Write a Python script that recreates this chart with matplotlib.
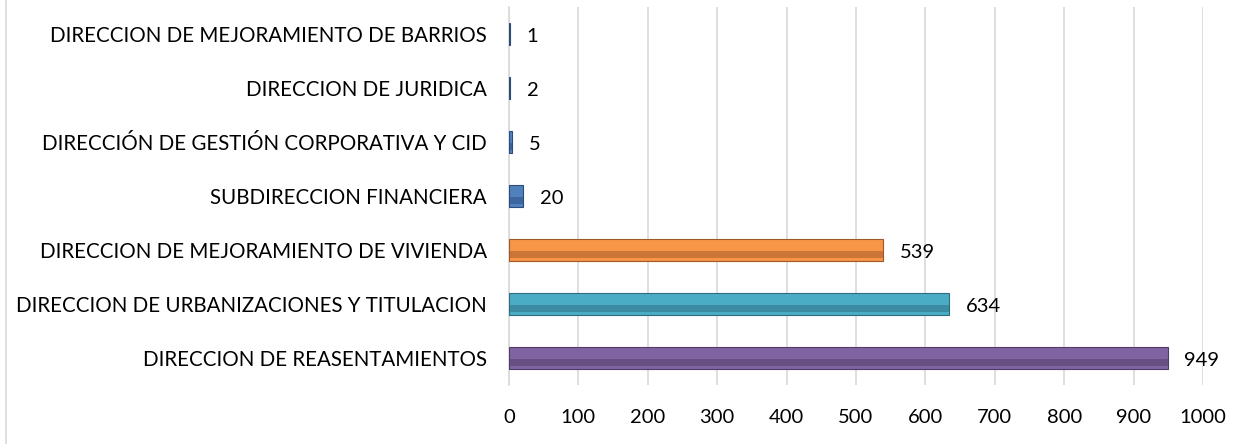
import matplotlib.pyplot as plt
from matplotlib.lines import Line2D

categories = [
    "DIRECCION DE REASENTAMIENTOS",
    "DIRECCION DE URBANIZACIONES Y TITULACION",
    "DIRECCION DE MEJORAMIENTO DE VIVIENDA",
    "SUBDIRECCION FINANCIERA",
    "DIRECCIÓN DE GESTIÓN CORPORATIVA Y CID",
    "DIRECCION DE JURIDICA",
    "DIRECCION DE MEJORAMIENTO DE BARRIOS",
]
values = [949, 634, 539, 20, 5, 2, 1]
colors = ["#8064A2", "#4BACC6", "#F79646", "#4F81BD", "#4F81BD", "#4F81BD", "#4F81BD"]
dark = ["#4F3C68", "#2C6E80", "#A0582A", "#2B4C7E", "#2B4C7E", "#2B4C7E", "#2B4C7E"]
xticks = list(range(0, 1001, 100))

plt.rcParams['font.family'] = ['Lato', 'DejaVu Sans']

fig = plt.figure(figsize=(12.59, 4.44), dpi=100)
ax = fig.add_axes([509 / 1259, 1 - 385 / 444, (1203 - 509) / 1259, 378 / 444])

ypos = list(range(len(categories)))
h = 0.39
ax.barh(ypos, values, height=h, color=colors, edgecolor=dark, linewidth=0.8, zorder=3)
# darker lower band to mimic the bevelled look
ax.barh([y - h * 0.2 for y in ypos], values, height=h * 0.35, color=dark,
        alpha=0.5, linewidth=0, zorder=4)

for y, v in zip(ypos, values):
    ax.text(v + 24, y - 0.05, str(v), va='center', ha='left', fontsize=14.5, color='black')

ax.set_xlim(0, 1000)
ax.set_ylim(-0.5, len(categories) - 0.5)
ax.set_xticks(xticks)
ax.set_yticks(ypos)
ax.set_yticklabels(categories, fontsize=14.8)
ax.tick_params(axis='x', labelsize=14.5, length=0, pad=17)
ax.tick_params(axis='y', length=0, pad=16)
ax.grid(axis='x', color='#D9D9D9', linewidth=1.2, zorder=0)
for s in ['top', 'right', 'bottom']:
    ax.spines[s].set_visible(False)
ax.spines['left'].set_color('#D9D9D9')
ax.spines['left'].set_linewidth(1.2)

fig.add_artist(Line2D([6 / 1259, 6 / 1259], [0, 1], color='#D9D9D9', linewidth=1.2))

fig.savefig('out.png', dpi=100)
